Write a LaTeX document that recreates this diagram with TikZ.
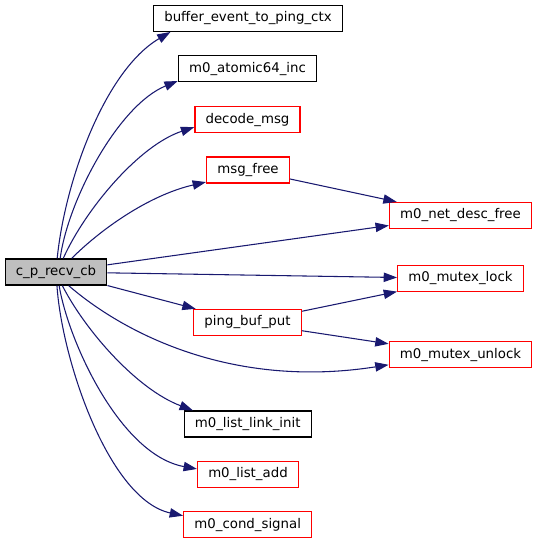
\documentclass[tikz,border=0pt]{standalone}
\usepackage{fontspec}
\setmainfont{DejaVu Sans}
\usepackage{xcolor}
\usepackage{tikz}
\usetikzlibrary{arrows.meta}
\definecolor{calledge}{RGB}{25,25,112}
\definecolor{rootfill}{RGB}{191,191,191}
\definecolor{linkred}{RGB}{255,0,0}

\begin{document}
\begin{tikzpicture}[x=0.75pt, y=-0.75pt,
  every node/.style={font=\fontsize{10}{12}\selectfont, inner xsep=8pt,
    minimum height=19.5pt, line width=1pt},
  fn/.style={draw=black, fill=white},
  rfn/.style={draw=linkred, fill=white},
  root/.style={draw=black, fill=rootfill},
  call/.style={-{Triangle[length=10pt, width=7pt]}, calledge, line width=0.8pt}]
\useasboundingbox (0,0) rectangle (537,544);
\node[root] (cp) at (56,272) {c\_p\_recv\_cb};
\node[fn]  (buf) at (248,18.3) {buffer\_event\_to\_ping\_ctx};
\node[fn]  (inc) at (247.5,68.7) {m0\_atomic64\_inc};
\node[rfn] (dec) at (247.5,119.7) {decode\_msg};
\node[rfn] (mf)  at (248,170) {msg\_free};
\node[rfn] (nd)  at (460.5,215.5) {m0\_net\_desc\_free};
\node[rfn] (ml)  at (460.5,278.5) {m0\_mutex\_lock};
\node[rfn] (pb)  at (247.5,322.5) {ping\_buf\_put};
\node[rfn] (mu)  at (460.5,354.7) {m0\_mutex\_unlock};
\node[fn]  (ll)  at (247.7,424) {m0\_list\_link\_init};
\node[rfn] (la)  at (248,474.3) {m0\_list\_add};
\node[rfn] (cs)  at (247.7,524.8) {m0\_cond\_signal};

% calls from c_p_recv_cb
\draw[call] (cp.85) .. controls +(8,-79) and +(-65,38) .. (buf.190);
\draw[call] (cp.73) .. controls +(8,-59) and +(-59,24) .. (inc.190);
\draw[call] (cp.62) .. controls +(22,-49) and +(-55,18) .. (dec.188);
\draw[call] (cp.41) .. controls +(29,-29) and +(-57,13) .. (mf.196);
\draw[call] (cp) -- (nd);
\draw[call] (cp) -- (ml);
\draw[call] (cp) -- (pb);
\draw[call] (cp.313) .. controls +(52,45) and +(-160,25) .. (mu.188);
\draw[call] (cp.295) .. controls +(23,45) and +(-56,-21) .. (ll.166);
\draw[call] (cp.283) .. controls +(9,55) and +(-77,-14) .. (la.174);
\draw[call] (cp.274) .. controls +(5,75) and +(-74,-16) .. (cs.172);
% second level
\draw[call] (mf) -- (nd);
\draw[call] (pb) -- (ml);
\draw[call] (pb) -- (mu);
\end{tikzpicture}
\end{document}
